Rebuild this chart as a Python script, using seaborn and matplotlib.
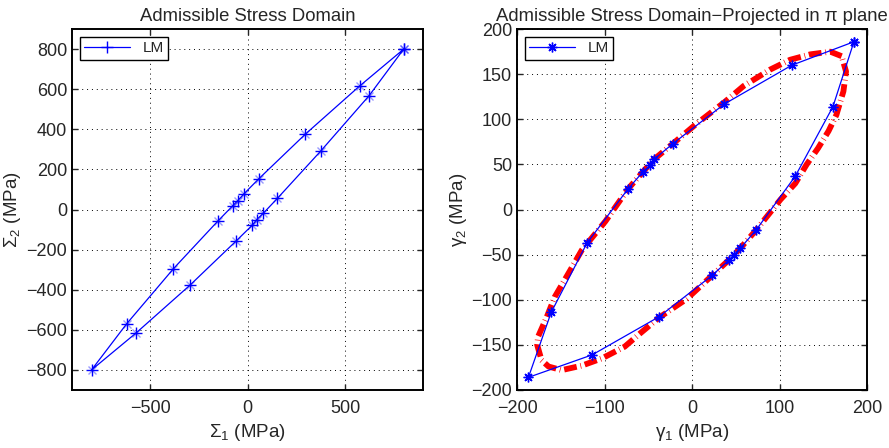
import numpy as np
import pandas as pd
import matplotlib
matplotlib.use("Agg")
import matplotlib.pyplot as plt
import seaborn as sns

# ---- data: admissible stress domain (Sigma1, Sigma2), loop order ----
sig1 = [800, 574, 296, 58, -19, -50, -77, -153, -380, -620, -800,
        -572, -294, -58, 24, 46, 81, 153, 376, 622, 800]
sig2 = [800, 616, 376, 154, 78, 45, 18, -58, -295, -570, -800,
        -616, -376, -156, -78, -51, -18, 56, 293, 567, 800]

# ---- data: projection in pi plane (gamma1, gamma2) ----
gam1 = [185, 114, 37, -22, -43, -48, -56, -73, -120, -161, -187,
        -114, -38, 23, 42, 48, 55, 73, 118, 161, 185]
gam2 = [186, 160, 117, 73, 56, 49, 42, 23, -37, -114, -186,
        -161, -119, -73, -56, -50, -43, -23, 37, 114, 186]

# red dash-dot reference curve in pi plane
ref1 = [171, 158, 135, 112, 89, 59, 37, 5, -22, -43, -56, -73, -99, -126,
        -139, -157, -166, -176, -177, -172, -164, -149, -126, -103, -77,
        -59, -38, -6, 23, 42, 55, 73, 101, 118, 131, 144, 156, 165, 173,
        176, 171]
ref2 = [170, 175, 172, 166, 155, 137, 119, 95, 73, 56, 42, 23, -13, -45,
        -67, -97, -119, -141, -150, -167, -174, -178, -173, -165, -152,
        -137, -120, -99, -73, -56, -43, -23, 11, 29, 50, 68, 87, 105, 131,
        153, 170]

sns.set_style("ticks")
plt.rcParams["font.family"] = ["Liberation Sans", "DejaVu Sans"]
plt.rcParams["mathtext.fontset"] = "custom"
plt.rcParams["mathtext.rm"] = "Liberation Sans"
plt.rcParams["mathtext.it"] = "Liberation Sans"

fig = plt.figure(figsize=(8.89, 4.48), dpi=100)
ax1 = fig.add_axes([0.081, 0.1295, 0.395, 0.8055])
ax2 = fig.add_axes([0.5816, 0.1295, 0.3937, 0.8055])

df1 = pd.DataFrame({"x": sig1, "y": sig2, "lab": "LM"})
df2 = pd.DataFrame({"x": gam1, "y": gam2, "lab": "LM"})
dfr = pd.DataFrame({"x": ref1, "y": ref2})

blue = (0, 0, 1)
asterisk = (8, 2, 0)

sns.lineplot(data=df1, x="x", y="y", hue="lab", palette=[blue], sort=False,
             estimator=None, marker="+", markersize=8, markeredgewidth=1.0,
             markeredgecolor=blue, linewidth=0.9, ax=ax1)
ax1.plot(sig1, sig2, linestyle="none", marker="x", markersize=5.5,
         color=blue, alpha=0.4)

sns.lineplot(data=dfr, x="x", y="y", sort=False, estimator=None,
             color="red", linewidth=4.2, dashes=False, ax=ax2,
             linestyle=(0, (2.2, 0.65, 0.12, 0.65)))
sns.lineplot(data=df2, x="x", y="y", hue="lab", palette=[blue], sort=False,
             estimator=None, marker=asterisk, markersize=7, markeredgewidth=1.0,
             markeredgecolor=blue, linewidth=0.9, ax=ax2)

for ax in (ax1, ax2):
    ax.grid(True, linestyle=(0, (1, 4)), color="black", linewidth=0.7)
    ax.tick_params(direction="in", length=4, width=1, labelsize=13,
                   top=True, right=True)
    ax.tick_params(axis="x", pad=7)
    for s in ax.spines.values():
        s.set_linewidth(1.4)
        s.set_color("black")
    leg = ax.legend(loc="upper left", fontsize=11, frameon=True, fancybox=False,
                    edgecolor="black", framealpha=1, handlelength=3,
                    borderpad=0.3, borderaxespad=0.5)
    leg.get_frame().set_linewidth(1.0)

ax1.set_xlim(-900, 900)
ax1.set_ylim(-900, 900)
ax1.set_xticks([-500, 0, 500])
ax1.set_yticks([-800, -600, -400, -200, 0, 200, 400, 600, 800])
ax1.set_xticklabels(["\u2212500", "0", "500"])
ax1.set_yticklabels(["\u2212800", "\u2212600", "\u2212400", "\u2212200", "0",
                     "200", "400", "600", "800"])
ax1.set_title("Admissible Stress Domain", fontsize=13.3)
ax1.set_xlabel(r"$\Sigma_1$ (MPa)", fontsize=13.5)
ax1.set_ylabel(r"$\Sigma_2$ (MPa)", fontsize=13.5, labelpad=2)

ax2.set_xlim(-200, 200)
ax2.set_ylim(-200, 200)
ax2.set_xticks([-200, -100, 0, 100, 200])
ax2.set_yticks([-200, -150, -100, -50, 0, 50, 100, 150, 200])
ax2.set_xticklabels(["\u2212200", "\u2212100", "0", "100", "200"])
ax2.set_yticklabels(["\u2212200", "\u2212150", "\u2212100", "\u221250", "0",
                     "50", "100", "150", "200"])
ax2.set_title("Admissible Stress Domain\u2212Projected in \u03c0 plane", fontsize=13.3)
ax2.set_xlabel(r"$\gamma_1$ (MPa)", fontsize=13.5)
ax2.set_ylabel(r"$\gamma_2$ (MPa)", fontsize=13.5, labelpad=2)

fig.savefig("out.png", dpi=100)
